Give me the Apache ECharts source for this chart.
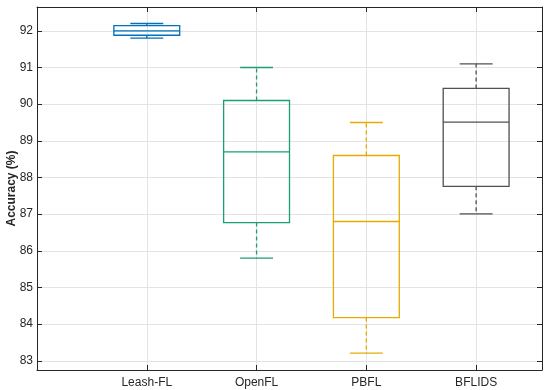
<!DOCTYPE html>
<html>
<head>
<meta charset="utf-8">
<script src="https://cdn.jsdelivr.net/npm/echarts@6/dist/echarts.min.js"></script>
<style>html,body{margin:0;padding:0;background:#fff}#c{width:550px;height:390px}</style>
</head>
<body>
<div id="c"></div>
<script>
// Categories and box statistics [min, Q1, median, Q3, max]
const categories = ['Leash-FL', 'OpenFL', 'PBFL', 'BFLIDS'];
const lowerWhisker = [91.80, 85.80, 83.21, 87.01];
const q1Values     = [91.88, 86.77, 84.18, 87.76];
const medianValues = [92.00, 88.70, 86.80, 89.51];
const q3Values     = [92.14, 90.10, 88.60, 90.43];
const upperWhisker = [92.20, 91.00, 89.50, 91.10];
const boxColors = ['#0072BD', '#1b9e77', '#e6ab02', '#505050'];
const yTicks = [83, 84, 85, 86, 87, 88, 89, 90, 91, 92];
const xTicks = [1, 2, 3, 4];

const font = "'Liberation Sans', Arial, Helvetica, sans-serif";
const axisColor = '#262626';

const seriesData = categories.map((c, i) => [i + 1, lowerWhisker[i], q1Values[i], medianValues[i], q3Values[i], upperWhisker[i], i]);

function renderItem(params, api) {
  const x = api.value(0);
  const mn = api.value(1), q1 = api.value(2), md = api.value(3), q3 = api.value(4), mx = api.value(5);
  const idx = api.value(6);
  const color = boxColors[idx];
  const boxW = api.size([0.6, 0])[0];
  const capW = api.size([0.3, 0])[0];
  const pMin = api.coord([x, mn]);
  const pQ1 = api.coord([x, q1]);
  const pMd = api.coord([x, md]);
  const pQ3 = api.coord([x, q3]);
  const pMx = api.coord([x, mx]);
  const cx = pMd[0];
  const solid = { stroke: color, lineWidth: 1.3, fill: null };
  const dashed = { stroke: color, lineWidth: 1.3, lineDash: [4, 3] };
  return {
    type: 'group',
    children: [
      { type: 'rect', shape: { x: cx - boxW / 2, y: pQ3[1], width: boxW, height: pQ1[1] - pQ3[1] }, style: solid },
      { type: 'line', shape: { x1: cx - boxW / 2, y1: pMd[1], x2: cx + boxW / 2, y2: pMd[1] }, style: solid },
      { type: 'line', shape: { x1: cx, y1: pQ3[1], x2: cx, y2: pMx[1] }, style: dashed },
      { type: 'line', shape: { x1: cx, y1: pQ1[1], x2: cx, y2: pMin[1] }, style: dashed },
      { type: 'line', shape: { x1: cx - capW / 2, y1: pMx[1], x2: cx + capW / 2, y2: pMx[1] }, style: solid },
      { type: 'line', shape: { x1: cx - capW / 2, y1: pMin[1], x2: cx + capW / 2, y2: pMin[1] }, style: solid }
    ]
  };
}

const chart = echarts.init(document.getElementById('c'), null, { renderer: 'canvas' });
chart.setOption({
  animation: false,
  backgroundColor: '#fff',
  grid: { left: 37, right: 8, top: 7, bottom: 20, containLabel: false, outerBoundsMode: 'none' },
  xAxis: [
    {
      type: 'value', min: 0, max: 4.6, position: 'bottom',
      axisLine: { show: true, onZero: false, lineStyle: { color: axisColor, width: 1 } },
      axisTick: { show: true, inside: true, length: 5, customValues: xTicks, lineStyle: { color: axisColor } },
      axisLabel: { customValues: xTicks, color: axisColor, fontFamily: font, fontSize: 12, margin: 7,
        formatter: v => categories[Math.round(v) - 1] || '' },
      splitLine: { show: true, lineStyle: { color: '#e3e3e3', width: 1 } }
    },
    {
      type: 'value', min: 0, max: 4.6, position: 'top',
      axisLine: { show: true, onZero: false, lineStyle: { color: axisColor, width: 1 } },
      axisTick: { show: true, inside: true, length: 5, customValues: xTicks, lineStyle: { color: axisColor } },
      axisLabel: { show: false },
      splitLine: { show: false }
    }
  ],
  yAxis: [
    {
      type: 'value', min: 82.75, max: 92.65, position: 'left',
      name: 'Accuracy (%)', nameLocation: 'middle', nameGap: 19, nameMoveOverlap: false,
      nameTextStyle: { fontFamily: font, fontSize: 12, fontWeight: 'bold', color: axisColor },
      axisLine: { show: true, onZero: false, lineStyle: { color: axisColor, width: 1 } },
      axisTick: { show: true, inside: true, length: 5, customValues: yTicks, lineStyle: { color: axisColor } },
      axisLabel: { customValues: yTicks, color: axisColor, fontFamily: font, fontSize: 12, margin: 4 },
      splitLine: { show: true, lineStyle: { color: '#e3e3e3', width: 1 } }
    },
    {
      type: 'value', min: 82.75, max: 92.65, position: 'right',
      axisLine: { show: true, onZero: false, lineStyle: { color: axisColor, width: 1 } },
      axisTick: { show: true, inside: true, length: 5, customValues: yTicks, lineStyle: { color: axisColor } },
      axisLabel: { show: false },
      splitLine: { show: false }
    }
  ],
  series: [
    {
      type: 'custom',
      xAxisIndex: 0, yAxisIndex: 0,
      renderItem: renderItem,
      encode: { x: 0, y: [1, 2, 3, 4, 5] },
      data: seriesData,
      z: 10
    }
  ]
});
</script>
</body>
</html>
